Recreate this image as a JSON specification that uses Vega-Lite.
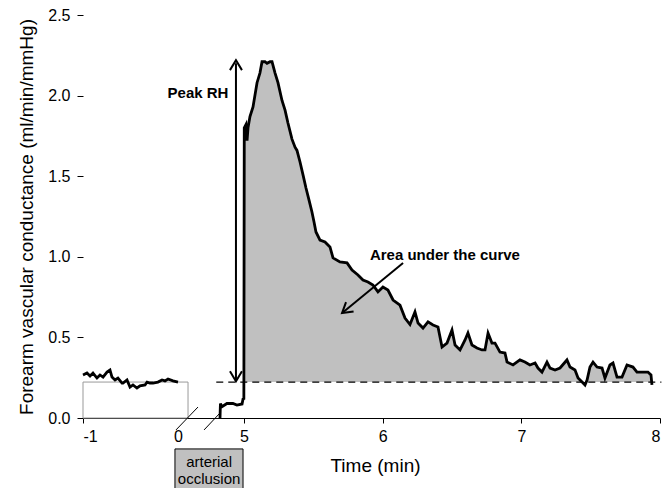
{
  "$schema": "https://vega.github.io/schema/vega-lite/v6.json",
  "autosize": {"type": "none"},
  "padding": {"left": 83, "top": 15, "right": 6, "bottom": 70},
  "width": 577,
  "height": 403,
  "background": "white",
  "config": {
    "view": {"stroke": null},
    "font": "Liberation Sans",
    "axis": {"labelFont": "Liberation Sans", "titleFont": "Liberation Sans", "labelColor": "black", "titleColor": "black", "titleFontWeight": "normal"}
  },
  "datasets": {
    "curve": [
      {"seg": "base", "t": -1.0, "v": 0.267}, {"seg": "base", "t": -0.958, "v": 0.279}, {"seg": "base", "t": -0.926, "v": 0.261}, {"seg": "base", "t": -0.895, "v": 0.279}, {"seg": "base", "t": -0.853, "v": 0.248}, {"seg": "base", "t": -0.821, "v": 0.267}, {"seg": "base", "t": -0.789, "v": 0.254}, {"seg": "base", "t": -0.747, "v": 0.285}, {"seg": "base", "t": -0.716, "v": 0.298}, {"seg": "base", "t": -0.695, "v": 0.254}, {"seg": "base", "t": -0.663, "v": 0.236}, {"seg": "base", "t": -0.632, "v": 0.248}, {"seg": "base", "t": -0.589, "v": 0.217}, {"seg": "base", "t": -0.579, "v": 0.217}, {"seg": "base", "t": -0.537, "v": 0.236}, {"seg": "base", "t": -0.505, "v": 0.192}, {"seg": "base", "t": -0.474, "v": 0.205}, {"seg": "base", "t": -0.432, "v": 0.186}, {"seg": "base", "t": -0.4, "v": 0.199}, {"seg": "base", "t": -0.347, "v": 0.205}, {"seg": "base", "t": -0.326, "v": 0.223}, {"seg": "base", "t": -0.295, "v": 0.217}, {"seg": "base", "t": -0.263, "v": 0.217}, {"seg": "base", "t": -0.211, "v": 0.223}, {"seg": "base", "t": -0.168, "v": 0.236}, {"seg": "base", "t": -0.137, "v": 0.23}, {"seg": "base", "t": -0.105, "v": 0.242}, {"seg": "base", "t": -0.053, "v": 0.23}, {"seg": "base", "t": 0.0, "v": 0.223},
      {"seg": "post", "t": 4.827, "v": 0.0}, {"seg": "post", "t": 4.83, "v": 0.09}, {"seg": "post", "t": 4.841, "v": 0.07}, {"seg": "post", "t": 4.877, "v": 0.09}, {"seg": "post", "t": 4.92, "v": 0.09}, {"seg": "post", "t": 4.949, "v": 0.08}, {"seg": "post", "t": 4.986, "v": 0.087}, {"seg": "post", "t": 4.993, "v": 0.118}, {"seg": "post", "t": 4.999, "v": 0.12},
      {"seg": "post", "t": 5.002, "v": 1.8}, {"seg": "post", "t": 5.014, "v": 1.82}, {"seg": "post", "t": 5.022, "v": 1.72}, {"seg": "post", "t": 5.029, "v": 1.8}, {"seg": "post", "t": 5.043, "v": 1.87}, {"seg": "post", "t": 5.065, "v": 1.93}, {"seg": "post", "t": 5.094, "v": 2.08}, {"seg": "post", "t": 5.115, "v": 2.14}, {"seg": "post", "t": 5.13, "v": 2.21}, {"seg": "post", "t": 5.151, "v": 2.21}, {"seg": "post", "t": 5.166, "v": 2.2}, {"seg": "post", "t": 5.188, "v": 2.21}, {"seg": "post", "t": 5.202, "v": 2.21}, {"seg": "post", "t": 5.224, "v": 2.14}, {"seg": "post", "t": 5.245, "v": 2.08}, {"seg": "post", "t": 5.274, "v": 1.97}, {"seg": "post", "t": 5.296, "v": 1.91}, {"seg": "post", "t": 5.317, "v": 1.83}, {"seg": "post", "t": 5.346, "v": 1.73}, {"seg": "post", "t": 5.368, "v": 1.68}, {"seg": "post", "t": 5.382, "v": 1.66}, {"seg": "post", "t": 5.404, "v": 1.588}, {"seg": "post", "t": 5.426, "v": 1.507}, {"seg": "post", "t": 5.447, "v": 1.427}, {"seg": "post", "t": 5.469, "v": 1.352}, {"seg": "post", "t": 5.49, "v": 1.278}, {"seg": "post", "t": 5.505, "v": 1.216}, {"seg": "post", "t": 5.519, "v": 1.154}, {"seg": "post", "t": 5.548, "v": 1.104}, {"seg": "post", "t": 5.584, "v": 1.092}, {"seg": "post", "t": 5.62, "v": 1.061}, {"seg": "post", "t": 5.642, "v": 0.993}, {"seg": "post", "t": 5.692, "v": 0.968}, {"seg": "post", "t": 5.743, "v": 0.962}, {"seg": "post", "t": 5.779, "v": 0.918}, {"seg": "post", "t": 5.822, "v": 0.887}, {"seg": "post", "t": 5.858, "v": 0.856}, {"seg": "post", "t": 5.894, "v": 0.844}, {"seg": "post", "t": 5.93, "v": 0.825}, {"seg": "post", "t": 5.966, "v": 0.782}, {"seg": "post", "t": 6.002, "v": 0.813}, {"seg": "post", "t": 6.038, "v": 0.794}, {"seg": "post", "t": 6.075, "v": 0.732}, {"seg": "post", "t": 6.125, "v": 0.7}, {"seg": "post", "t": 6.161, "v": 0.62}, {"seg": "post", "t": 6.197, "v": 0.58}, {"seg": "post", "t": 6.233, "v": 0.658}, {"seg": "post", "t": 6.255, "v": 0.589}, {"seg": "post", "t": 6.291, "v": 0.558}, {"seg": "post", "t": 6.327, "v": 0.596}, {"seg": "post", "t": 6.363, "v": 0.577}, {"seg": "post", "t": 6.399, "v": 0.565}, {"seg": "post", "t": 6.428, "v": 0.44}, {"seg": "post", "t": 6.464, "v": 0.465}, {"seg": "post", "t": 6.5, "v": 0.546}, {"seg": "post", "t": 6.522, "v": 0.453}, {"seg": "post", "t": 6.558, "v": 0.422}, {"seg": "post", "t": 6.594, "v": 0.484}, {"seg": "post", "t": 6.615, "v": 0.527}, {"seg": "post", "t": 6.644, "v": 0.453}, {"seg": "post", "t": 6.68, "v": 0.434}, {"seg": "post", "t": 6.716, "v": 0.422}, {"seg": "post", "t": 6.738, "v": 0.422}, {"seg": "post", "t": 6.76, "v": 0.527}, {"seg": "post", "t": 6.788, "v": 0.465}, {"seg": "post", "t": 6.81, "v": 0.465}, {"seg": "post", "t": 6.846, "v": 0.409}, {"seg": "post", "t": 6.882, "v": 0.403}, {"seg": "post", "t": 6.897, "v": 0.347}, {"seg": "post", "t": 6.94, "v": 0.329}, {"seg": "post", "t": 6.99, "v": 0.36}, {"seg": "post", "t": 7.026, "v": 0.347}, {"seg": "post", "t": 7.062, "v": 0.329}, {"seg": "post", "t": 7.099, "v": 0.341}, {"seg": "post", "t": 7.12, "v": 0.31}, {"seg": "post", "t": 7.149, "v": 0.285}, {"seg": "post", "t": 7.185, "v": 0.347}, {"seg": "post", "t": 7.207, "v": 0.31}, {"seg": "post", "t": 7.243, "v": 0.298}, {"seg": "post", "t": 7.279, "v": 0.31}, {"seg": "post", "t": 7.329, "v": 0.36}, {"seg": "post", "t": 7.351, "v": 0.316}, {"seg": "post", "t": 7.387, "v": 0.298}, {"seg": "post", "t": 7.409, "v": 0.248}, {"seg": "post", "t": 7.438, "v": 0.223}, {"seg": "post", "t": 7.459, "v": 0.205}, {"seg": "post", "t": 7.474, "v": 0.236}, {"seg": "post", "t": 7.495, "v": 0.316}, {"seg": "post", "t": 7.517, "v": 0.347}, {"seg": "post", "t": 7.546, "v": 0.316}, {"seg": "post", "t": 7.582, "v": 0.31}, {"seg": "post", "t": 7.603, "v": 0.248}, {"seg": "post", "t": 7.639, "v": 0.329}, {"seg": "post", "t": 7.661, "v": 0.341}, {"seg": "post", "t": 7.69, "v": 0.254}, {"seg": "post", "t": 7.726, "v": 0.254}, {"seg": "post", "t": 7.762, "v": 0.329}, {"seg": "post", "t": 7.805, "v": 0.316}, {"seg": "post", "t": 7.834, "v": 0.285}, {"seg": "post", "t": 7.87, "v": 0.285}, {"seg": "post", "t": 7.913, "v": 0.285}, {"seg": "post", "t": 7.935, "v": 0.267}, {"seg": "post", "t": 7.942, "v": 0.205}
    ],
    "arrows": [
      {"t": 4.942, "v": 2.2, "t2": 4.942, "v2": 0.235},
      {"t": 6.147, "v": 0.962, "t2": 5.712, "v2": 0.655}
    ],
    "slashes": [
      {"t": -0.021, "v": -0.074, "t2": 3.852, "v2": 0.068},
      {"t": 4.712, "v": -0.074, "t2": 4.827, "v2": 0.031}
    ],
    "labels": [
      {"t": 3.85, "v": 2.016, "label": "Peak RH"},
      {"t": 6.449, "v": 1.011, "label": "Area under the curve"}
    ]
  },
  "layer": [
    {
      "data": {"values": [{"t": -1, "t2": 1.93, "v": 0, "v2": 0.223}]},
      "mark": {"type": "rect", "fill": null, "stroke": "#999999", "strokeWidth": 1},
      "encoding": {
        "x": {"field": "t", "type": "quantitative", "scale": {"domain": [-1, 0, 4.7, 8], "range": [0, 95, 119.4, 577], "nice": false, "zero": false}, "axis": {"title": "Time (min)", "values": [-1, 0, 5, 6, 7, 8], "format": "d", "labelExpr": "replace(datum.label, '\u2212', '-')", "grid": false, "domainColor": "black", "domainWidth": 1.2, "tickColor": "black", "tickSize": 5, "tickOpacity": {"condition": {"test": "datum.value == 0", "value": 0}, "value": 1}, "labelFontSize": 16, "labelPadding": 5, "titleFontSize": 19, "titlePadding": 12, "titleX": 292}},
        "x2": {"field": "t2"},
        "y": {"field": "v", "type": "quantitative", "scale": {"domain": [0, 2.5], "nice": false, "zero": false}, "axis": {"title": "Forearm vascular conductance (ml/min/mmHg)", "values": [0, 0.5, 1, 1.5, 2, 2.5], "format": ".1f", "grid": false, "domain": false, "tickColor": "black", "tickSize": 6, "labelFontSize": 16, "labelPadding": 7, "titleFontSize": 19, "titlePadding": 11}},
        "y2": {"field": "v2"}
      }
    },
    {
      "data": {"name": "curve"},
      "transform": [{"filter": "datum.seg == 'post' && datum.t >= 5.002"}],
      "mark": {"type": "area", "color": "#c0c0c0", "opacity": 1},
      "encoding": {
        "x": {"field": "t", "type": "quantitative"},
        "y": {"field": "v", "type": "quantitative"},
        "y2": {"datum": 0.223}
      }
    },
    {
      "data": {"values": [{"t": 4.8, "t2": 8.01, "v": 0.223}]},
      "mark": {"type": "rule", "color": "black", "strokeWidth": 1.3, "strokeDash": [7, 5]},
      "encoding": {
        "x": {"field": "t", "type": "quantitative"},
        "x2": {"field": "t2"},
        "y": {"field": "v", "type": "quantitative"}
      }
    },
    {
      "data": {"name": "curve"},
      "mark": {"type": "line", "color": "black", "strokeWidth": 2.8, "strokeJoin": "miter"},
      "encoding": {
        "x": {"field": "t", "type": "quantitative"},
        "y": {"field": "v", "type": "quantitative"},
        "detail": {"field": "seg"}
      }
    },
    {
      "data": {"name": "arrows"},
      "mark": {"type": "rule", "color": "black", "strokeWidth": 2},
      "encoding": {
        "x": {"field": "t", "type": "quantitative"},
        "x2": {"field": "t2"},
        "y": {"field": "v", "type": "quantitative"},
        "y2": {"field": "v2"}
      }
    },
    {
      "data": {"values": [{"t": 4.942, "v": 2.22}]},
      "mark": {"type": "point", "shape": "M-0.6,1L0,0L0.6,1", "size": 400, "filled": false, "stroke": "black", "strokeWidth": 2, "angle": 0, "opacity": 1},
      "encoding": {"x": {"field": "t", "type": "quantitative"}, "y": {"field": "v", "type": "quantitative"}}
    },
    {
      "data": {"values": [{"t": 4.942, "v": 0.228}]},
      "mark": {"type": "point", "shape": "M-0.6,1L0,0L0.6,1", "size": 400, "filled": false, "stroke": "black", "strokeWidth": 2, "angle": 180, "opacity": 1},
      "encoding": {"x": {"field": "t", "type": "quantitative"}, "y": {"field": "v", "type": "quantitative"}}
    },
    {
      "data": {"values": [{"t": 5.707, "v": 0.651}]},
      "mark": {"type": "point", "shape": "M-0.6,1L0,0L0.6,1", "size": 400, "filled": false, "stroke": "black", "strokeWidth": 2, "angle": 231, "opacity": 1},
      "encoding": {"x": {"field": "t", "type": "quantitative"}, "y": {"field": "v", "type": "quantitative"}}
    },
    {
      "data": {"name": "slashes"},
      "mark": {"type": "rule", "color": "black", "strokeWidth": 1},
      "encoding": {
        "x": {"field": "t", "type": "quantitative"},
        "x2": {"field": "t2"},
        "y": {"field": "v", "type": "quantitative"},
        "y2": {"field": "v2"}
      }
    },
    {
      "data": {"name": "labels"},
      "mark": {"type": "text", "font": "Liberation Sans", "fontWeight": "bold", "fontSize": 15, "align": "center", "baseline": "middle", "color": "black"},
      "encoding": {
        "x": {"field": "t", "type": "quantitative"},
        "y": {"field": "v", "type": "quantitative"},
        "text": {"field": "label"}
      }
    },
    {
      "data": {"values": [{"t": -0.032, "t2": 4.993, "v": -0.192, "v2": -0.45}]},
      "mark": {"type": "rect", "fill": "#c0c0c0", "stroke": "black", "strokeWidth": 1},
      "encoding": {
        "x": {"field": "t", "type": "quantitative"},
        "x2": {"field": "t2"},
        "y": {"field": "v", "type": "quantitative"},
        "y2": {"field": "v2"}
      }
    },
    {
      "data": {"values": [{"t": 4.748, "v": -0.273, "label": "arterial"}, {"t": 4.748, "v": -0.378, "label": "occlusion"}]},
      "mark": {"type": "text", "font": "Liberation Sans", "fontSize": 15, "align": "center", "baseline": "middle", "color": "black"},
      "encoding": {
        "x": {"field": "t", "type": "quantitative"},
        "y": {"field": "v", "type": "quantitative"},
        "text": {"field": "label"}
      }
    }
  ]
}
